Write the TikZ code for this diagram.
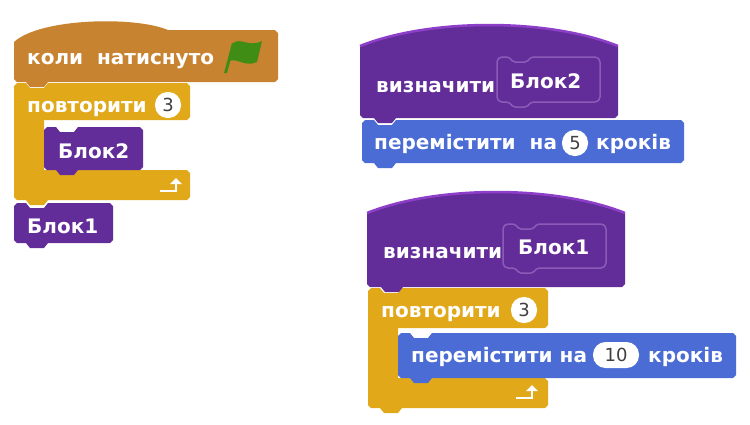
\documentclass[tikz,border=0pt]{standalone}
\usepackage{fontspec}
\setmainfont{DejaVu Sans}
\begin{document}
\begin{tikzpicture}[x=1pt,y=-1pt,
  lbl/.style={anchor=base west,inner sep=0pt,text=white,font=\bfseries\fontsize{20}{22}\selectfont},
  num/.style={fill=white,rounded corners=12.5pt,minimum height=26pt,minimum width=26pt,inner sep=1pt,text=black!75,font=\fontsize{18}{20}\selectfont}]
\definecolor{ctrl}{HTML}{E1A91A}
\definecolor{evt}{HTML}{C88330}
\definecolor{more}{HTML}{632D99}
\definecolor{moreline}{HTML}{8E3FC9}
\definecolor{slot}{HTML}{8A5CB8}
\definecolor{mot}{HTML}{4A6CD4}
\definecolor{flag}{HTML}{3F8D15}
\useasboundingbox (0,0) rectangle (750,424);
\newcommand\blk[5]{\path[fill=#5] ({#1},{#2+3}) -- ({#1+3},{#2}) -- ({#1+12},{#2}) -- ({#1+16},{#2+5}) -- ({#1+30},{#2+5}) -- ({#1+34},{#2}) -- ({#3-3},{#2}) -- ({#3},{#2+3}) -- ({#3},{#4-3}) -- ({#3-3},{#4}) -- ({#1+34},{#4}) -- ({#1+30},{#4+5}) -- ({#1+16},{#4+5}) -- ({#1+12},{#4}) -- ({#1+3},{#4}) -- ({#1},{#4-3}) -- cycle;}
\newcommand\slotshape[4]{\draw[slot,line width=1.5pt,rounded corners=2pt] ({#1},{#2+3}) -- ({#1+3},{#2}) -- ({#1+12},{#2}) -- ({#1+16},{#2+5}) -- ({#1+30},{#2+5}) -- ({#1+34},{#2}) -- ({#3-3},{#2}) -- ({#3},{#2+3}) -- ({#3},{#4-3}) -- ({#3-3},{#4}) -- ({#1+34},{#4}) -- ({#1+30},{#4+5}) -- ({#1+16},{#4+5}) -- ({#1+12},{#4}) -- ({#1+3},{#4}) -- ({#1},{#4-3}) -- cycle;}
\newcommand\cblk[7]{\path[fill=ctrl] ({#1},{#2+3}) -- ({#1+3},{#2}) -- ({#1+12},{#2}) -- ({#1+16},{#2+5}) -- ({#1+30},{#2+5}) -- ({#1+34},{#2}) -- ({#3-3},{#2}) -- ({#3},{#2+3}) -- ({#3},{#4-3}) -- ({#3-3},{#4}) -- ({#7},{#4}) -- ({#7},{#5}) -- ({#3-3},{#5}) -- ({#3},{#5+3}) -- ({#3},{#6-3}) -- ({#3-3},{#6}) -- ({#1+34},{#6}) -- ({#1+30},{#6+5}) -- ({#1+16},{#6+5}) -- ({#1+12},{#6}) -- ({#1+3},{#6}) -- ({#1},{#6-3}) -- cycle;}
\newcommand\loopar[2]{\draw[white,line width=2.5pt] ({#1},{#2}) -- ({#1+16},{#2}) -- ({#1+16},{#2-7}); \fill[white] ({#1+10},{#2-7}) -- ({#1+22},{#2-7}) -- ({#1+16},{#2-13}) -- cycle;}
% ---------- left script
\cblk{14}{83}{190}{120}{170}{200}{44}
\blk{44}{127}{143}{170}{more}
\blk{14}{203}{113}{243}{more}
\path[fill=evt] (14,42) .. controls (40,18) and (135,16) .. (168,30) -- (275,30) -- (278,33) -- (278,79) -- (275,82) -- (48,82) -- (44,87) -- (30,87) -- (26,82) -- (17,82) -- (14,79) -- cycle;
\node[lbl] (t1) at (27,64) {коли\ \ натиснуто};
\fill[flag] (224,73) -- (227,73) -- (235,44) -- (232,43) -- cycle;
\fill[flag] (232,44) .. controls (240,36) and (248,48) .. (262,41) -- (257,62) .. controls (244,68) and (236,56) .. (228,62) -- cycle;
\node[lbl] (t2) at (27,112) {повторити};
\node[num] (n1) at (168,105) {3};
\node[lbl] (t3) at (58,158) {Блок2};
\loopar{160}{191}
\node[lbl] (t4) at (27,233) {Блок1};
% ---------- define Блок2
\path[fill=more] (360,46) .. controls (430,18) and (548,18) .. (618,46) -- (618,115) -- (615,118) -- (396,118) -- (392,123) -- (378,123) -- (374,118) -- (363,118) -- (360,115) -- cycle;
\draw[moreline,line width=2.5pt] (360,46) .. controls (430,18) and (548,18) .. (618,46);
\slotshape{497}{57}{600}{102}
\node[lbl] (t5) at (376,92) {визначити};
\node[lbl] (t6) at (510,88) {Блок2};
\blk{362}{120}{684}{163}{mot}
\node[lbl] (t7) at (374,149) {перемістити\ \ на};
\node[num] (n2) at (575,143) {5};
\node[lbl] (t8) at (596,149) {кроків};
% ---------- define Блок1
\cblk{368}{288}{548}{328}{378}{408}{398}
\blk{398}{333}{736}{378}{mot}
\path[fill=more] (367,213) .. controls (437,185) and (555,185) .. (625,213) -- (625,284) -- (622,287) -- (403,287) -- (399,292) -- (385,292) -- (381,287) -- (370,287) -- (367,284) -- cycle;
\draw[moreline,line width=2.5pt] (367,213) .. controls (437,185) and (555,185) .. (625,213);
\slotshape{503}{224}{606}{268}
\node[lbl] (t9) at (383,258) {визначити};
\node[lbl] (t10) at (518,254) {Блок1};
\node[lbl] (t11) at (381,317) {повторити};
\node[num] (n3) at (524,310) {3};
\node[lbl] (t12) at (411,362) {перемістити на};
\node[num,minimum width=46pt] (n4) at (616,355) {10};
\node[lbl] (t13) at (648,362) {кроків};
\loopar{516}{398}
\end{tikzpicture}
\end{document}
